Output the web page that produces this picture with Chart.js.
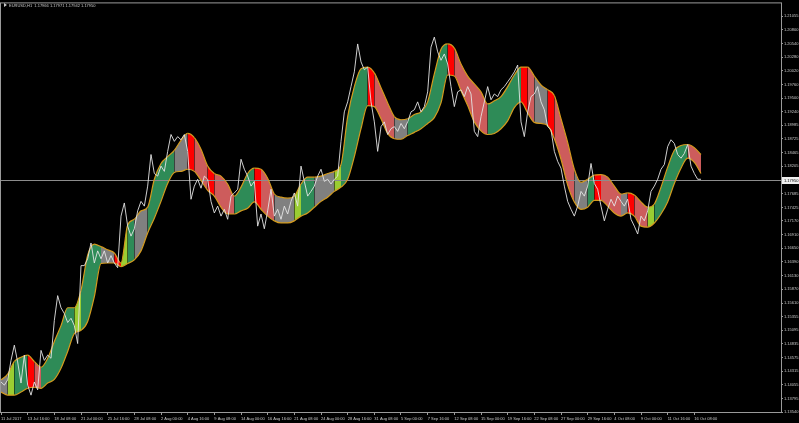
<!DOCTYPE html>
<html>
<head>
<meta charset="utf-8">
<title>EURUSD,H1</title>
<script src="https://cdn.jsdelivr.net/npm/chart.js@4.4.1/dist/chart.umd.min.js"></script>
<style>
  html, body { margin: 0; padding: 0; background: #000; overflow: hidden; }
  canvas { display: block; background: #000; }
</style>
</head>
<body>
<canvas id="mtChart" width="799" height="423"></canvas>
<script>
// ===== Data =====
const symbolTitle = 'EURUSD,H1  1.17966 1.17971 1.17942 1.17950';
const lastPrice = 1.17950;

// hourly bars: one close sample every 8 bars, one band sample every 16 bars, a date label every 64 bars
const barsPerPriceStep = 8;
const barsPerBandStep = 16;
const barsPerDateLabel = 64;

const dateLabels = ['11 Jul 2017', '13 Jul 16:00', '18 Jul 08:00', '21 Jul 00:00', '25 Jul 16:00',
  '28 Jul 08:00', '2 Aug 00:00', '4 Aug 16:00', '9 Aug 08:00', '14 Aug 00:00', '16 Aug 16:00',
  '21 Aug 08:00', '24 Aug 00:00', '28 Aug 16:00', '31 Aug 08:00', '5 Sep 00:00', '7 Sep 16:00',
  '12 Sep 08:00', '15 Sep 00:00', '19 Sep 16:00', '22 Sep 08:00', '27 Sep 00:00', '29 Sep 16:00',
  '4 Oct 08:00', '9 Oct 00:00', '11 Oct 16:00', '16 Oct 08:00'];

const priceTicks = [1.21055, 1.20800, 1.20540, 1.20280, 1.20020, 1.19760, 1.19500, 1.19240,
  1.18985, 1.18725, 1.18465, 1.18205, 1.17685, 1.17425, 1.17170, 1.16910, 1.16650, 1.16390,
  1.16130, 1.15870, 1.15610, 1.15355, 1.15095, 1.14835, 1.14575, 1.14315, 1.14055, 1.13795, 1.13540];
const priceMin = 1.13540;
const priceMax = 1.21300;

const closePrices = [
  1.1411, 1.1405, 1.1415, 1.1452, 1.1481, 1.1449, 1.1409, 1.1462, 1.1405, 1.1386,
  1.1411, 1.1396, 1.1471, 1.1452, 1.1462, 1.1456, 1.1528, 1.1575, 1.1552, 1.1541,
  1.1524, 1.1532, 1.1518, 1.1484, 1.1632, 1.1632, 1.1645, 1.1675, 1.1637, 1.1660,
  1.1645, 1.1660, 1.1637, 1.1651, 1.1637, 1.1628, 1.1726, 1.1751, 1.1707, 1.1688,
  1.1702, 1.1736, 1.1754, 1.1745, 1.1783, 1.1843, 1.1807, 1.1802, 1.1821, 1.1811,
  1.1849, 1.1881, 1.1868, 1.1877, 1.1871, 1.1881, 1.1849, 1.1758, 1.1783, 1.1796,
  1.1779, 1.1802, 1.1796, 1.1754, 1.1732, 1.1745, 1.1726, 1.1739, 1.1720, 1.1764,
  1.1770, 1.1777, 1.1834, 1.1815, 1.1802, 1.1783, 1.1792, 1.1707, 1.1730, 1.1702,
  1.1736, 1.1777, 1.1726, 1.1739, 1.1720, 1.1745, 1.1730, 1.1754, 1.1770, 1.1745,
  1.1821, 1.1792, 1.1764, 1.1773, 1.1783, 1.1802, 1.1815, 1.1792, 1.1796, 1.1787,
  1.1796, 1.1802, 1.1868, 1.1924, 1.1943, 1.1972, 1.2000, 1.2053, 1.2019, 1.2004,
  1.2009, 1.1943, 1.1905, 1.1849, 1.1896, 1.1905, 1.1881, 1.1892, 1.1896, 1.1887,
  1.1902, 1.1892, 1.1905, 1.1924, 1.1928, 1.1943, 1.1924, 1.1934, 1.1962, 1.2047,
  1.2066, 1.2038, 1.2022, 1.2034, 1.2015, 1.1972, 1.1934, 1.1962, 1.1966, 1.1953,
  1.1972, 1.1958, 1.1887, 1.1877, 1.1915, 1.1943, 1.1972, 1.1947, 1.1958, 1.1953,
  1.1966, 1.1972, 1.1981, 1.1990, 1.2000, 1.2013, 1.1905, 1.1877, 1.1924, 1.1953,
  1.1958, 1.1972, 1.1943, 1.1928, 1.1896, 1.1890, 1.1849, 1.1830, 1.1817, 1.1783,
  1.1754, 1.1739, 1.1726, 1.1745, 1.1773, 1.1764, 1.1783, 1.1826, 1.1788, 1.1777,
  1.1745, 1.1717, 1.1739, 1.1758, 1.1745, 1.1764, 1.1754, 1.1745, 1.1758, 1.1720,
  1.1707, 1.1692, 1.1726, 1.1717, 1.1736, 1.1773, 1.1783, 1.1796, 1.1815, 1.1824,
  1.1858, 1.1871, 1.1864, 1.1843, 1.1836, 1.1845, 1.1862, 1.1821, 1.1807, 1.1796,
  1.1796
];

const bandUpper = [
  1.1415, 1.1426, 1.1450, 1.1458, 1.1462, 1.1450, 1.1439, 1.1456, 1.1488, 1.1518,
  1.1552, 1.1552, 1.1585, 1.1652, 1.1673, 1.1668, 1.1662, 1.1656, 1.1637, 1.1709,
  1.1720, 1.1736, 1.1743, 1.1796, 1.1826, 1.1839, 1.1851, 1.1870, 1.1883, 1.1875,
  1.1853, 1.1821, 1.1807, 1.1802, 1.1787, 1.1764, 1.1781, 1.1807, 1.1817, 1.1815,
  1.1798, 1.1768, 1.1762, 1.1760, 1.1764, 1.1787, 1.1800, 1.1800, 1.1802, 1.1807,
  1.1811, 1.1824, 1.1915, 1.1972, 1.2006, 1.2009, 1.1998, 1.1970, 1.1941, 1.1915,
  1.1909, 1.1911, 1.1919, 1.1924, 1.1943, 1.1996, 1.2043, 1.2053, 1.2045, 1.2015,
  1.1992, 1.1977, 1.1962, 1.1939, 1.1945, 1.1953, 1.1972, 1.1994, 1.2009, 1.2009,
  1.1992, 1.1975, 1.1966, 1.1955, 1.1911, 1.1866, 1.1815, 1.1790, 1.1796, 1.1804,
  1.1805, 1.1800, 1.1783, 1.1768, 1.1770, 1.1766, 1.1753, 1.1743, 1.1749, 1.1781,
  1.1819, 1.1851, 1.1860, 1.1862, 1.1856, 1.1843
];

const bandLower = [
  1.1392, 1.1386, 1.1386, 1.1392, 1.1399, 1.1401, 1.1399, 1.1409, 1.1416, 1.1437,
  1.1469, 1.1503, 1.1509, 1.1526, 1.1573, 1.1636, 1.1637, 1.1637, 1.1630, 1.1636,
  1.1643, 1.1660, 1.1694, 1.1722, 1.1754, 1.1788, 1.1809, 1.1811, 1.1815, 1.1811,
  1.1794, 1.1775, 1.1764, 1.1743, 1.1730, 1.1730, 1.1736, 1.1741, 1.1753, 1.1739,
  1.1726, 1.1717, 1.1713, 1.1713, 1.1717, 1.1726, 1.1732, 1.1743, 1.1754, 1.1762,
  1.1773, 1.1781, 1.1796, 1.1839, 1.1892, 1.1936, 1.1934, 1.1911, 1.1883, 1.1873,
  1.1872, 1.1879, 1.1885, 1.1892, 1.1902, 1.1913, 1.1941, 1.1994, 1.1992, 1.1964,
  1.1936, 1.1905, 1.1888, 1.1881, 1.1883, 1.1892, 1.1907, 1.1932, 1.1943, 1.1922,
  1.1904, 1.1902, 1.1898, 1.1873, 1.1834, 1.1785, 1.1753, 1.1739, 1.1743, 1.1756,
  1.1756, 1.1745, 1.1732, 1.1726, 1.1732, 1.1726, 1.1707, 1.1705, 1.1713, 1.1730,
  1.1753, 1.1788, 1.1817, 1.1836, 1.1828, 1.1807
];

// band state of each band step: G up, R down, g flat, X turn down, L turn up
const bandState = 'gLGGXRGGGG' + 'GLGGGggXLG' + 'ggGGGGggXR' + 'RXRRRGGGXR' + 'RgggLGGggg' +
  'LGGGGXRRRg' + 'gGGGGGGXRR' + 'RRRGGGGGXR' + 'ggXRRRggGX' + 'RRRgXRRLGG' + 'GGGRRR';

const stateColors = { G: '#2e8b57', R: '#cd5c5c', g: '#808080', X: '#ff0000', L: '#9acd32' };
const bandEdge = '#d39a1e';
const axisFont = '"Liberation Sans", "DejaVu Sans", sans-serif';

// ===== Chart =====
const mtFrame = {
  id: 'mtFrame',
  beforeDraw(chart) {
    const { ctx, width, height } = chart;
    ctx.save();
    ctx.fillStyle = '#000';
    ctx.fillRect(0, 0, width, height);
    ctx.restore();
  },
  beforeDatasetsDraw(chart) {
    // current bid line sits behind the band
    const { ctx, chartArea: a, scales } = chart;
    const py = Math.round(scales.y.getPixelForValue(lastPrice)) + 0.5;
    ctx.save();
    ctx.strokeStyle = '#8c8c8c';
    ctx.lineWidth = 1;
    ctx.beginPath();
    ctx.moveTo(a.left, py);
    ctx.lineTo(a.right, py);
    ctx.stroke();
    ctx.restore();
  },
  afterDraw(chart) {
    const { ctx, chartArea: a, scales } = chart;
    ctx.save();
    ctx.strokeStyle = '#9a9a9a';
    ctx.lineWidth = 1;
    ctx.strokeRect(a.left - 0.5, a.top - 0.5, a.right - a.left + 1, a.bottom - a.top + 1);

    // bid label on the price scale
    const py = Math.round(scales.y.getPixelForValue(lastPrice));
    ctx.fillStyle = '#f0f0f0';
    ctx.fillRect(a.right + 1, py - 3, 17, 7);
    ctx.fillStyle = '#000';
    ctx.font = '4px ' + axisFont;
    ctx.textBaseline = 'middle';
    ctx.textAlign = 'left';
    ctx.fillText(lastPrice.toFixed(5), a.right + 3, py + 0.5);

    // symbol line in the corner
    ctx.fillStyle = '#c8c8c8';
    ctx.beginPath();
    ctx.moveTo(4, 3);
    ctx.lineTo(7, 5);
    ctx.lineTo(4, 7);
    ctx.closePath();
    ctx.fill();
    ctx.fillText(symbolTitle, 9, 5.5);
    ctx.restore();
  }
};

const ctx = document.getElementById('mtChart').getContext('2d');

new Chart(ctx, {
  type: 'line',
  data: {
    datasets: [
      {
        label: 'Close',
        data: closePrices.map((v, i) => ({ x: i * barsPerPriceStep, y: v })),
        borderColor: '#e4e4e4',
        borderWidth: 0.9,
        pointRadius: 0,
        tension: 0,
        fill: false
      },
      {
        label: 'Band high',
        data: bandUpper.map((v, j) => ({ x: j * barsPerBandStep, y: v })),
        borderColor: bandEdge,
        borderWidth: 1.2,
        pointRadius: 0,
        cubicInterpolationMode: 'monotone',
        fill: '+1',
        backgroundColor: stateColors.G,
        segment: {
          backgroundColor: c => stateColors[bandState[c.p0DataIndex]]
        }
      },
      {
        label: 'Band low',
        data: bandLower.map((v, j) => ({ x: j * barsPerBandStep, y: v })),
        borderColor: bandEdge,
        borderWidth: 1.2,
        pointRadius: 0,
        cubicInterpolationMode: 'monotone',
        fill: false
      }
    ]
  },
  options: {
    responsive: false,
    animation: false,
    events: [],
    layout: { padding: { left: 1, top: 1, right: 0, bottom: 0 } },
    plugins: {
      legend: { display: false },
      tooltip: { enabled: false },
      filler: { drawTime: 'beforeDatasetsDraw' }
    },
    scales: {
      x: {
        type: 'linear',
        min: 0,
        max: 1872,
        afterBuildTicks: s => { s.ticks = dateLabels.map((_, k) => ({ value: k * barsPerDateLabel })); },
        afterFit: s => { s.height = 11; },
        ticks: {
          autoSkip: false,
          maxRotation: 0,
          minRotation: 0,
          align: 'start',
          padding: 1,
          color: '#c8c8c8',
          font: { family: axisFont, size: 4 },
          callback: (v, i) => dateLabels[i]
        },
        grid: { drawOnChartArea: false, drawTicks: true, tickLength: 3, color: '#9a9a9a' },
        border: { color: '#9a9a9a' }
      },
      y: {
        type: 'linear',
        position: 'right',
        min: priceMin,
        max: priceMax,
        afterBuildTicks: s => { s.ticks = priceTicks.map(v => ({ value: v })); },
        afterFit: s => { s.width = 18; },
        ticks: {
          autoSkip: false,
          padding: 1,
          color: '#c8c8c8',
          font: { family: axisFont, size: 4 },
          callback: v => v.toFixed(5)
        },
        grid: { drawOnChartArea: false, drawTicks: true, tickLength: 2, color: '#9a9a9a' },
        border: { color: '#9a9a9a' }
      }
    }
  },
  plugins: [mtFrame]
});
</script>
</body>
</html>
